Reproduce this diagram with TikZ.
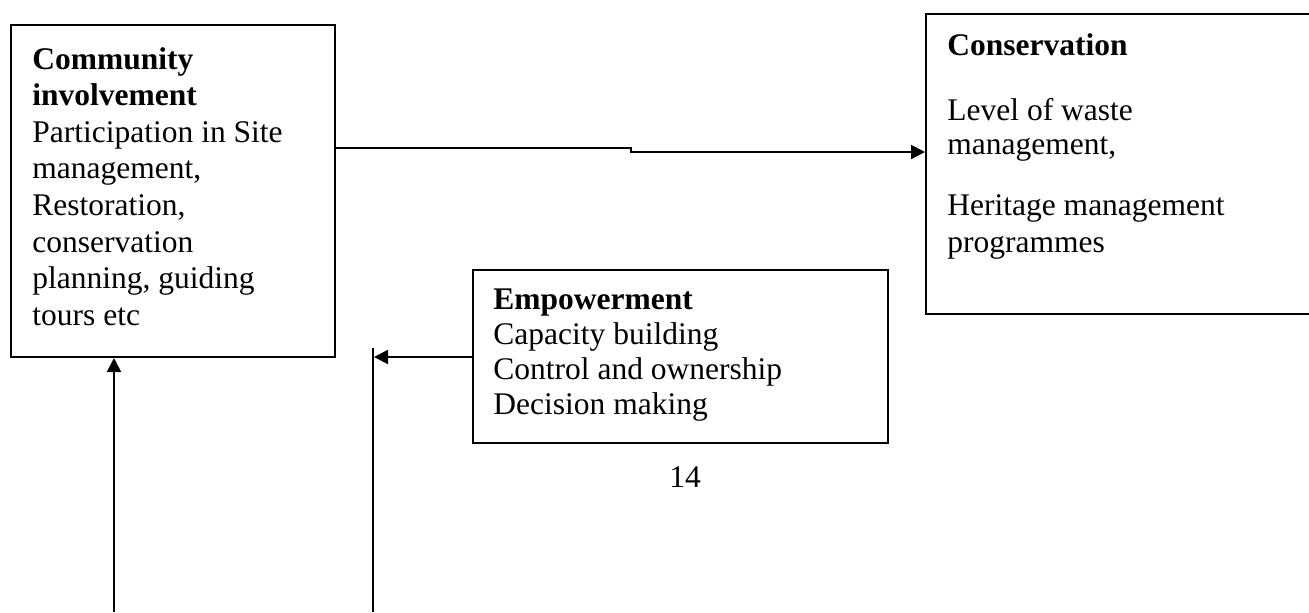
\documentclass[tikz,border=0pt]{standalone}
\usepackage{fontspec}
\setmainfont{Liberation Serif}
\usepackage{tikz}
\usetikzlibrary{positioning}
\usetikzlibrary{arrows.meta}

\tikzset{
  box/.style={draw, line width=1pt, anchor=north west, inner sep=0pt},
  boxtext/.style={align=left, inner sep=0pt, anchor=north west,
    font=\fontsize{15.75}{17}\selectfont},
  conn/.style={line width=1pt, -{Triangle[length=7pt,width=7pt]}},
  plainline/.style={line width=1pt}
}

\begin{document}
\begin{tikzpicture}[x=0.5pt,y=-0.5pt]
\clip (0,0) rectangle (1309,612);
\fill[white] (0,0) rectangle (1309,612);

% boxes
\node[box, minimum width=162pt, minimum height=166pt] (comm) at (10,24) {};
\node[box, minimum width=210pt, minimum height=150pt] (cons) at (925,13) {};
\node[box, minimum width=207.5pt, minimum height=86.5pt] (emp) at (472,269) {};

\node[boxtext, font=\fontsize{15.75}{18.3}\selectfont,
  below right=11.4pt and 11pt of comm.north west] (commtext)
  {\textbf{Community}\\ \textbf{involvement}\\ Participation in Site\\ management,\\
   Restoration,\\ conservation\\ planning, guiding\\ tours etc};
\node[boxtext, below right=10.2pt and 11pt of cons.north west] (constext)
  {\textbf{Conservation}\\[15.5pt] Level of waste\\ management,\\[13.5pt]
   Heritage management\\[1.5pt] programmes};
\node[boxtext, font=\fontsize{15.75}{17.5}\selectfont,
  below right=9.5pt and 10.5pt of emp.north west] (emptext)
  {\textbf{Empowerment}\\ Capacity building\\ Control and ownership\\ Decision making};

\node[font=\fontsize{15.75}{17}\selectfont] (page) at (685,477) {14};

% connectors
\coordinate (kink) at (631,148);
\draw[conn] (comm.east |- kink) -- (kink) -- ++(0,4) coordinate (kinklow) -- (kinklow -| cons.west);

\coordinate (fb) at (374,357);
\coordinate (fbtop) at (373,348);
\coordinate (fbbot) at (373,612);
\draw[conn] (emp.west |- fb) -- (fb);
\draw[plainline] (fbtop) -- (fbbot);

\coordinate (upbot) at (114,612);
\draw[conn] (upbot) -- (upbot |- comm.south);
\end{tikzpicture}
\end{document}
